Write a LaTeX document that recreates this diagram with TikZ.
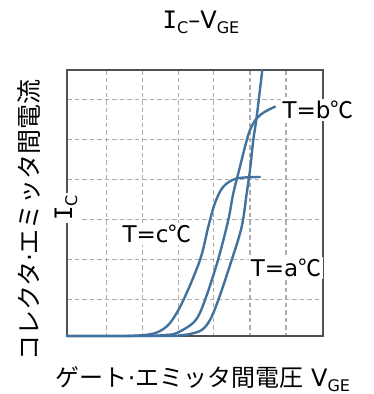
\documentclass[tikz,border=0pt]{standalone}
\usepackage{fontspec}
\setmainfont{DejaVu Sans}
\newfontfamily\jp{Noto Sans CJK JP}
\newfontfamily\serI{DejaVu Sans Mono}
\newcommand\sbx[1]{\raisebox{-5pt}{\fontsize{16}{16}\selectfont #1}}
\newcommand\Ichar{{\serI I}}
\definecolor{curvec}{RGB}{65,113,157}
\definecolor{gridc}{RGB}{172,172,172}
\definecolor{framec}{RGB}{80,80,80}
\begin{document}
\begin{tikzpicture}[x=1pt,y=-1pt,
  gridline/.style={draw=gridc, dash pattern=on 4.5pt off 3pt, line width=1.2pt},
  frameline/.style={draw=framec, line width=1.3pt},
  curveline/.style={draw=curvec, line width=2.4pt, line cap=round, line join=round},
  lbl/.style={font=\fontsize{24}{28}\selectfont, inner sep=1pt},
  tlbl/.style={font=\fontsize{23}{27}\selectfont, fill=white, inner sep=2pt}]
\useasboundingbox (0,0) rectangle (373,394);
% grid
\foreach \gx in {106.5,142.5,178.3,213.8,250,286}
  \draw[gridline] (\gx,70) -- (\gx,336);
\foreach \gy in {99.8,139.6,179.4,219.3,259.5,299.7}
  \draw[gridline] (67,\gy) -- (323,\gy);
% frame
\draw[frameline] (67,70) rectangle (323,336);
% curves
\draw[curveline] (67,336) -- (175,336) -- plot[smooth,tension=0.55] coordinates {(175,336) (190,334) (201.7,330) (210,320) (218.3,300) (231.7,260) (241.7,226.7) (246.7,193.3) (250,170) (253.3,140) (256.7,116.7) (262.3,70)};
\draw[curveline] (67,336) -- (150,336) -- plot[smooth,tension=0.55] coordinates {(150,336) (165,335) (176.7,333) (195,321) (205,300) (218,260) (228.3,220) (233.3,193.3) (240,166.7) (245,146.7) (250,130) (256.7,118.3) (265,111.7) (275,106.7)};
\draw[curveline] (67,336) -- (125,336) -- plot[smooth,tension=0.55] coordinates {(125,336) (145,335) (158,332) (170,323) (183,301) (200,260) (208.3,226.7) (215,203) (223.3,186.7) (236.7,178.5) (260,177)};
% labels
\node[lbl, anchor=base] (title) at (201,28) {\Ichar\sbx{C}–V\sbx{GE}};
\node[lbl, anchor=base] (xlabel) at (203,386) {{\jp ゲート}·{\jp エミッタ間電圧} V\sbx{GE}};
\node[lbl, font=\fontsize{25}{29}\selectfont, rotate=90] (ylabel) at (29,220) {{\jp コレクタ}·{\jp エミッタ間電流}};
\node[tlbl, font=\fontsize{24}{28}\selectfont, rotate=90] (ic) at (66,208) {\Ichar\sbx{C}};
\node[tlbl] (ta) at (286,268) {T=a{\jp ℃}};
\node[tlbl] (tb) at (318,110) {T=b{\jp ℃}};
\node[tlbl] (tc) at (157,234) {T=c{\jp ℃}};
\end{tikzpicture}
\end{document}
